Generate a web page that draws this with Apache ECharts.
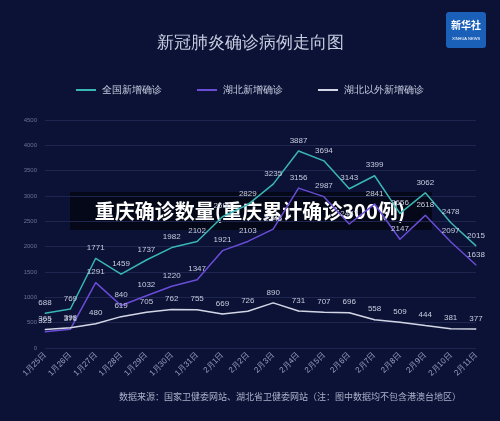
<!DOCTYPE html><html><head><meta charset="utf-8"><script src="https://cdn.jsdelivr.net/npm/echarts@6/dist/echarts.min.js"></script>
<style>html,body{margin:0;background:#0b1236}#c{width:500px;height:421px}</style></head><body><div id="c"></div><script>
const dates=['1月25日','1月26日','1月27日','1月28日','1月29日','1月30日','1月31日','2月1日','2月2日','2月3日','2月4日','2月5日','2月6日','2月7日','2月8日','2月9日','2月10日','2月11日'];
const national=[688,769,1771,1459,1737,1982,2102,2590,2829,3235,3887,3694,3143,3399,2656,3062,2478,2015];
const hubei=[323,371,1291,840,1032,1220,1347,1921,2103,2345,3156,2987,2447,2841,2147,2618,2097,1638];
const outside=[365,398,480,619,705,762,755,669,726,890,731,707,696,558,509,444,381,377];
const ch=echarts.init(document.getElementById('c'));
const lbl={show:true,position:'top',color:'#c8cce0',fontSize:8,distance:6};
function s(name,data,color){return {name,type:'line',data,symbol:'circle',symbolSize:1,showSymbol:true,lineStyle:{color,width:1.5},itemStyle:{color},label:lbl,labelLayout:{hideOverlap:false}};}
ch.setOption({backgroundColor:'#0b1236',
title:{text:'新冠肺炎确诊病例走向图',left:'center',top:30,textStyle:{color:'#c8cce0',fontSize:17,fontWeight:'normal'}},
legend:{top:80,left:'center',itemGap:35,icon:'path://M0,0H20V2H0Z',itemWidth:22,itemHeight:2,textStyle:{color:'#c8cce0',fontSize:10}},
grid:{left:45,right:24,top:120,bottom:73},
xAxis:{type:'category',data:dates,boundaryGap:false,axisLine:{show:false},axisTick:{show:false},axisLabel:{rotate:45,color:'#9aa0c0',fontSize:8,interval:0,margin:6}},
yAxis:{type:'value',min:0,max:4500,interval:500,axisLabel:{color:'#6a7090',fontSize:6,formatter:v=>String(v)},splitLine:{lineStyle:{color:'#1e2650'}}},
series:[s('全国新增确诊',national,'#3ab5b5'),s('湖北新增确诊',hubei,'#6a4cd6'),s('湖北以外新增确诊',outside,'#d4d6e6')],
graphic:[
{type:'rect',shape:{x:70,y:192,width:362,height:38},style:{fill:'rgba(0,0,0,0.55)'}},
{type:'text',x:250,y:211,style:{text:'重庆确诊数量(重庆累计确诊300例)',fill:'#fff',font:'bold 20px "Noto Sans CJK SC"',textAlign:'center',textVerticalAlign:'middle'}},
{type:'text',x:290,y:397,style:{text:'数据来源：国家卫健委网站、湖北省卫健委网站（注：图中数据均不包含港澳台地区）',fill:'#aab0c8',font:'9px "Noto Sans CJK SC"',textAlign:'center',textVerticalAlign:'middle'}},
{type:'rect',shape:{x:446,y:12,width:40,height:36,r:3},style:{fill:'#1a5fb8'}},
{type:'text',x:466,y:25,style:{text:'新华社',fill:'#fff',font:'bold 10px "Noto Sans CJK SC"',textAlign:'center',textVerticalAlign:'middle'}},
{type:'text',x:466,y:39,style:{text:'XINHUA NEWS',fill:'#fff',font:'4px sans-serif',textAlign:'center',textVerticalAlign:'middle'}}
]});
</script></body></html>
